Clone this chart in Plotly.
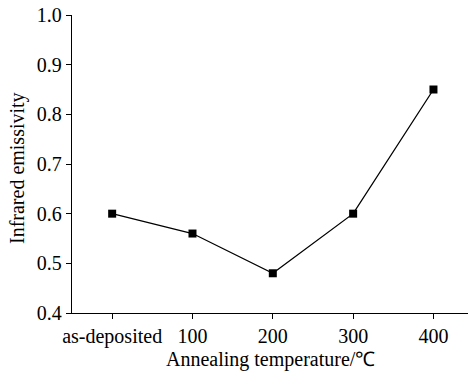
import plotly.graph_objects as go

categories = ["as-deposited", "100", "200", "300", "400"]
emissivity = [0.60, 0.56, 0.48, 0.60, 0.85]
y_ticks = [0.4, 0.5, 0.6, 0.7, 0.8, 0.9, 1.0]

fig = go.Figure(go.Scatter(
    x=list(range(len(categories))), y=emissivity, mode="lines+markers",
    line=dict(color="black", width=1.3),
    marker=dict(symbol="square", size=8, color="black"),
))

font = dict(family="Liberation Serif, Times New Roman, serif", size=20, color="black")
fig.update_layout(
    width=470, height=372, margin=dict(l=72, r=2, t=15, b=59),
    paper_bgcolor="white", plot_bgcolor="white", showlegend=False, font=font,
)
fig.update_xaxes(
    range=[-0.5, 4.43], tickmode="array", tickvals=list(range(len(categories))),
    ticktext=categories, ticks="outside", ticklen=5, tickcolor="black",
    showline=True, linecolor="black", linewidth=1.3, showgrid=False, zeroline=False,
    automargin=False,
)
fig.update_yaxes(
    range=[0.4, 1.0], tickmode="array", tickvals=y_ticks,
    ticktext=[f"{v:.1f}" for v in y_ticks], ticks="outside", ticklen=5, tickcolor="black",
    showline=True, linecolor="black", linewidth=1.3, showgrid=False, zeroline=False,
    automargin=False,
)
fig.add_annotation(text="Annealing temperature/℃", xref="paper", yref="paper",
                   x=0.5, y=-0.155, xanchor="center", yanchor="middle",
                   showarrow=False, font=font)
fig.add_annotation(text="Infrared emissivity", xref="paper", yref="paper",
                   x=-0.136, y=0.487, xanchor="center", yanchor="middle",
                   textangle=-90, showarrow=False, font=font)
fig.write_html("out.html", config={"displayModeBar": False},
               post_script="document.body.style.margin='0';document.body.style.overflow='hidden';")
